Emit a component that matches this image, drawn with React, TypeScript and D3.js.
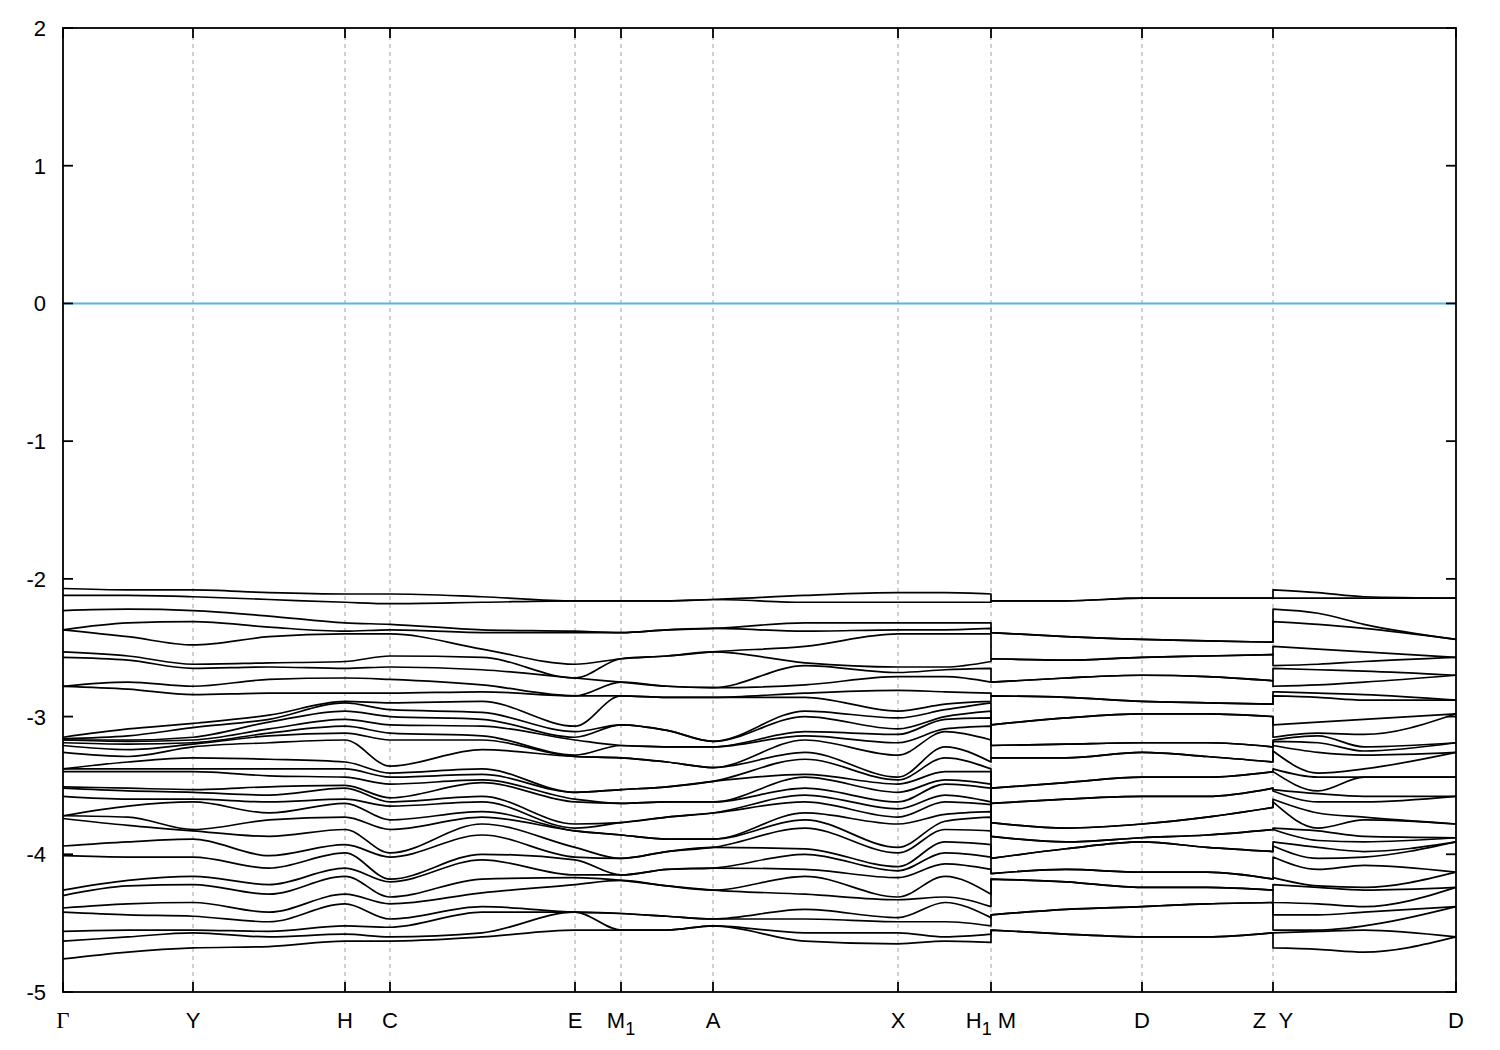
import * as d3 from "d3";

// band structure along the high-symmetry path, energies in eV

const energyTicks = [-5, -4, -3, -2, -1, 0, 1, 2];
const kTickPos = [0, 0.13, 0.282, 0.327, 0.512, 0.558, 0.65, 0.835, 0.928, 1.079, 1.21, 1.393];
const kTickLabels = ["Γ", "Y", "H", "C", "E", "M_1", "A", "X", "H_1 M", "D", "Z Y", "D"];

// Γ -> Y -> H -> C -> E -> M1 -> A -> X -> H1
const seg1K = [0, 0.065, 0.13, 0.206, 0.282, 0.327, 0.419, 0.512, 0.558, 0.604, 0.65, 0.742, 0.835, 0.882, 0.928];
const seg1Rows = [
  [-2.07, -2.12, -2.23, -2.37, -2.37, -2.53, -2.57, -2.78, -2.78, -3.15, -3.16, -3.17, -3.17, -3.19, -3.21, -3.26, -3.38, -3.38, -3.40, -3.51, -3.52, -3.58, -3.72, -3.72, -3.74, -3.94, -4.01, -4.26, -4.30, -4.39, -4.42, -4.56, -4.63, -4.76],
  [-2.08, -2.12, -2.22, -2.32, -2.42, -2.56, -2.59, -2.75, -2.80, -3.09, -3.14, -3.17, -3.18, -3.20, -3.24, -3.29, -3.33, -3.38, -3.40, -3.52, -3.54, -3.60, -3.65, -3.73, -3.79, -3.91, -4.02, -4.19, -4.23, -4.36, -4.44, -4.55, -4.60, -4.71],
  [-2.08, -2.13, -2.23, -2.31, -2.48, -2.62, -2.65, -2.78, -2.84, -3.05, -3.08, -3.15, -3.17, -3.19, -3.20, -3.22, -3.30, -3.38, -3.40, -3.53, -3.55, -3.60, -3.62, -3.82, -3.83, -3.89, -4.02, -4.16, -4.22, -4.35, -4.45, -4.55, -4.57, -4.68],
  [-2.10, -2.15, -2.27, -2.35, -2.42, -2.61, -2.64, -2.73, -2.83, -2.99, -3.02, -3.04, -3.09, -3.12, -3.14, -3.19, -3.31, -3.38, -3.43, -3.51, -3.57, -3.62, -3.70, -3.75, -3.87, -4.01, -4.10, -4.22, -4.29, -4.42, -4.49, -4.56, -4.60, -4.67],
  [-2.11, -2.17, -2.32, -2.38, -2.40, -2.60, -2.65, -2.72, -2.83, -2.89, -2.90, -2.96, -3.02, -3.07, -3.12, -3.17, -3.33, -3.38, -3.44, -3.50, -3.52, -3.60, -3.63, -3.73, -3.82, -3.93, -3.99, -4.10, -4.16, -4.29, -4.36, -4.52, -4.58, -4.63],
  [-2.11, -2.18, -2.33, -2.37, -2.40, -2.56, -2.64, -2.73, -2.83, -2.90, -2.95, -3.00, -3.06, -3.12, -3.17, -3.36, -3.41, -3.44, -3.49, -3.59, -3.62, -3.65, -3.75, -3.82, -3.99, -4.02, -4.18, -4.20, -4.31, -4.36, -4.47, -4.53, -4.60, -4.63],
  [-2.13, -2.17, -2.37, -2.39, -2.51, -2.57, -2.66, -2.77, -2.82, -2.89, -2.97, -3.02, -3.07, -3.14, -3.17, -3.24, -3.38, -3.42, -3.46, -3.48, -3.58, -3.62, -3.69, -3.73, -3.78, -3.86, -4.00, -4.04, -4.18, -4.28, -4.38, -4.42, -4.57, -4.60],
  [-2.16, -2.16, -2.38, -2.39, -2.62, -2.72, -2.72, -2.85, -2.85, -3.07, -3.11, -3.15, -3.17, -3.28, -3.29, -3.29, -3.55, -3.55, -3.60, -3.62, -3.78, -3.81, -3.83, -3.83, -3.95, -4.02, -4.04, -4.15, -4.17, -4.22, -4.42, -4.42, -4.42, -4.55],
  [-2.16, -2.16, -2.39, -2.39, -2.58, -2.58, -2.75, -2.75, -2.85, -2.85, -3.06, -3.06, -3.21, -3.21, -3.30, -3.30, -3.53, -3.53, -3.63, -3.63, -3.77, -3.77, -3.86, -3.86, -4.03, -4.03, -4.15, -4.15, -4.19, -4.19, -4.43, -4.43, -4.55, -4.55],
  [-2.16, -2.16, -2.37, -2.37, -2.56, -2.56, -2.78, -2.78, -2.86, -2.86, -3.10, -3.10, -3.22, -3.22, -3.33, -3.33, -3.51, -3.51, -3.62, -3.62, -3.73, -3.73, -3.89, -3.89, -3.98, -3.98, -4.11, -4.11, -4.23, -4.23, -4.45, -4.45, -4.55, -4.55],
  [-2.15, -2.15, -2.36, -2.36, -2.53, -2.53, -2.79, -2.79, -2.86, -2.86, -3.18, -3.18, -3.22, -3.22, -3.37, -3.37, -3.47, -3.47, -3.62, -3.62, -3.70, -3.70, -3.89, -3.89, -3.95, -3.95, -4.10, -4.10, -4.26, -4.26, -4.47, -4.47, -4.52, -4.52],
  [-2.12, -2.17, -2.32, -2.38, -2.49, -2.61, -2.63, -2.77, -2.83, -2.86, -2.96, -3.00, -3.11, -3.14, -3.17, -3.26, -3.31, -3.42, -3.44, -3.52, -3.57, -3.62, -3.70, -3.75, -3.81, -3.96, -4.00, -4.11, -4.16, -4.29, -4.40, -4.47, -4.57, -4.63],
  [-2.10, -2.17, -2.32, -2.37, -2.40, -2.64, -2.68, -2.71, -2.81, -2.96, -3.01, -3.09, -3.13, -3.19, -3.28, -3.44, -3.46, -3.49, -3.55, -3.62, -3.67, -3.73, -3.78, -3.95, -3.99, -4.09, -4.12, -4.17, -4.31, -4.33, -4.46, -4.49, -4.57, -4.65],
  [-2.10, -2.17, -2.32, -2.37, -2.40, -2.64, -2.66, -2.71, -2.82, -2.91, -2.95, -3.00, -3.02, -3.09, -3.11, -3.22, -3.30, -3.40, -3.46, -3.49, -3.57, -3.62, -3.71, -3.76, -3.82, -3.91, -3.99, -4.07, -4.16, -4.31, -4.35, -4.49, -4.60, -4.63],
  [-2.11, -2.17, -2.32, -2.36, -2.40, -2.60, -2.65, -2.75, -2.83, -2.89, -2.90, -2.96, -3.01, -3.07, -3.17, -3.33, -3.38, -3.40, -3.49, -3.52, -3.62, -3.64, -3.69, -3.73, -3.83, -3.93, -4.02, -4.11, -4.29, -4.38, -4.46, -4.52, -4.58, -4.64],
];

// M -> D -> Z, every level twofold degenerate
const seg2K = [0.928, 1.003, 1.079, 1.144, 1.21];
const seg2Rows = [
  [-2.16, -2.39, -2.58, -2.75, -2.85, -3.06, -3.21, -3.30, -3.52, -3.63, -3.77, -3.87, -4.03, -4.14, -4.18, -4.44, -4.55],
  [-2.16, -2.42, -2.59, -2.72, -2.86, -3.01, -3.20, -3.30, -3.48, -3.60, -3.81, -3.91, -3.96, -4.11, -4.20, -4.40, -4.58],
  [-2.14, -2.44, -2.57, -2.70, -2.89, -2.98, -3.19, -3.26, -3.44, -3.58, -3.78, -3.88, -3.91, -4.13, -4.24, -4.38, -4.60],
  [-2.14, -2.45, -2.56, -2.71, -2.90, -2.98, -3.19, -3.29, -3.44, -3.58, -3.73, -3.86, -3.95, -4.13, -4.24, -4.36, -4.60],
  [-2.14, -2.46, -2.55, -2.74, -2.91, -3.00, -3.22, -3.33, -3.40, -3.52, -3.66, -3.82, -3.98, -4.18, -4.26, -4.35, -4.57],
];

// Y -> D
const seg3K = [1.21, 1.255, 1.301, 1.393];
const seg3Rows = [
  [-2.08, -2.14, -2.22, -2.31, -2.49, -2.63, -2.65, -2.78, -2.82, -2.85, -3.06, -3.15, -3.17, -3.18, -3.21, -3.25, -3.38, -3.40, -3.53, -3.54, -3.60, -3.62, -3.81, -3.82, -3.91, -3.94, -4.02, -4.17, -4.22, -4.35, -4.44, -4.55, -4.57, -4.68],
  [-2.10, -2.14, -2.25, -2.33, -2.51, -2.62, -2.66, -2.77, -2.83, -2.86, -3.04, -3.12, -3.14, -3.19, -3.26, -3.41, -3.44, -3.54, -3.56, -3.62, -3.70, -3.81, -3.83, -3.90, -3.95, -4.03, -4.11, -4.23, -4.24, -4.36, -4.44, -4.55, -4.56, -4.69],
  [-2.13, -2.14, -2.33, -2.36, -2.53, -2.60, -2.67, -2.75, -2.84, -2.88, -3.02, -3.13, -3.22, -3.25, -3.28, -3.38, -3.44, -3.44, -3.58, -3.62, -3.73, -3.75, -3.87, -3.91, -3.98, -4.02, -4.08, -4.24, -4.26, -4.38, -4.42, -4.52, -4.55, -4.71],
  [-2.14, -2.14, -2.44, -2.44, -2.57, -2.57, -2.70, -2.70, -2.88, -2.88, -2.98, -2.98, -3.19, -3.19, -3.26, -3.26, -3.44, -3.44, -3.58, -3.58, -3.78, -3.78, -3.88, -3.88, -3.91, -3.91, -4.13, -4.13, -4.24, -4.24, -4.38, -4.38, -4.60, -4.60],
];

const width = 1500;
const height = 1050;
const left = 63;
const right = 1456;
const top = 28;
const bottom = 992;
const font = "'Liberation Sans', Arial, sans-serif";

function TickLabel({ label, x, y }: { label: string; x: number; y: number }) {
  if (label === "Γ") {
    return (
      <text x={x} y={y} textAnchor="middle" fontFamily="'Liberation Serif', 'DejaVu Serif', serif" fontSize={23}>
        Γ
      </text>
    );
  }
  const m = label.match(/^(.*?)_(\w)(.*)$/);
  if (!m) {
    return (
      <text x={x} y={y} textAnchor="middle" fontFamily={font} fontSize={22}>
        {label.replace(" ", "\u00a0\u00a0")}
      </text>
    );
  }
  return (
    <text x={x} y={y} textAnchor="middle" fontFamily={font} fontSize={22}>
      {m[1]}
      <tspan dy={7} fontSize={18}>{m[2]}</tspan>
      {m[3] && <tspan dy={-7}>{m[3].replace(" ", "\u00a0")}</tspan>}
    </text>
  );
}

export default function App() {
  const x = d3.scaleLinear([0, 1.393], [left, right]);
  const y = d3.scaleLinear([-5, 2], [bottom, top]);

  const lineGen = d3
    .line<[number, number]>()
    .x((d) => x(d[0]))
    .y((d) => y(d[1]))
    .curve(d3.curveMonotoneX);

  const nBands = Math.min(...seg1Rows.map((r) => r.length), ...seg3Rows.map((r) => r.length));

  const bandPaths = d3.range(nBands).map((b) => {
    const p1 = seg1K.map((k, i) => [k, seg1Rows[i][b]] as [number, number]);
    const p2 = seg2K.map((k, i) => [k, seg2Rows[i][Math.floor(b / 2)]] as [number, number]);
    const p3 = seg3K.map((k, i) => [k, seg3Rows[i][b]] as [number, number]);
    return (
      (lineGen(p1) ?? "") +
      (lineGen(p2) ?? "").replace(/^M/, "L") +
      (lineGen(p3) ?? "").replace(/^M/, "L")
    );
  });

  return (
    <svg width={width} height={height} style={{ position: "absolute", left: 0, top: 0, background: "#fff" }}>
      {/* dashed verticals at the high-symmetry points */}
      {kTickPos.slice(1, -1).map((k, i) => (
        <line key={"g" + i} x1={x(k)} x2={x(k)} y1={top} y2={bottom} stroke="#a0a0a0" strokeWidth={1} strokeDasharray="4,4" />
      ))}
      <line x1={left} x2={right} y1={y(0)} y2={y(0)} stroke="#56b4e9" strokeWidth={2} />

      <g fill="none" stroke="#000" strokeWidth={1.7} strokeLinejoin="round">
        {bandPaths.map((d, i) => (
          <path key={i} d={d} />
        ))}
      </g>

      <rect x={left} y={top} width={right - left} height={bottom - top} fill="none" stroke="#000" strokeWidth={1.8} />

      {energyTicks.map((v) => (
        <g key={"y" + v}>
          <line x1={left} x2={left + 10} y1={y(v)} y2={y(v)} stroke="#000" strokeWidth={1.8} />
          <line x1={right - 10} x2={right} y1={y(v)} y2={y(v)} stroke="#000" strokeWidth={1.8} />
          <text x={46} y={y(v) + 8} textAnchor="end" fontFamily={font} fontSize={22}>
            {v}
          </text>
        </g>
      ))}

      {kTickPos.map((k, i) => (
        <g key={"x" + i}>
          <line x1={x(k)} x2={x(k)} y1={bottom} y2={bottom - 10} stroke="#000" strokeWidth={1.8} />
          <line x1={x(k)} x2={x(k)} y1={top} y2={top + 10} stroke="#000" strokeWidth={1.8} />
          <TickLabel label={kTickLabels[i]} x={x(k)} y={1028} />
        </g>
      ))}
    </svg>
  );
}
